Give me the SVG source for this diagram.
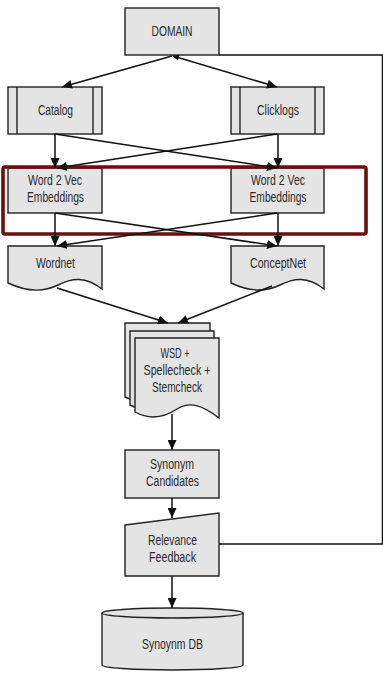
<svg xmlns="http://www.w3.org/2000/svg" width="383" height="675" viewBox="0 0 383 675">
  <style>
    .node { fill: #e4e4e4; stroke: #222; stroke-width: 1.4; }
    .inner { fill: none; stroke: #222; stroke-width: 1.4; }
    .label { font-family: "Liberation Sans", Arial, sans-serif; font-size: 14px; fill: #2a2a2a; text-anchor: middle; }
    .edge { fill: none; stroke: #111; stroke-width: 1.5; }
    .frame { fill: none; stroke: #6e0d0d; stroke-width: 3.6; }
  </style>
  <defs>
    <marker id="arrow" markerUnits="userSpaceOnUse" markerWidth="11" markerHeight="9" refX="10" refY="4.5" orient="auto">
      <path d="M0,0 L10,4.5 L0,9 Z" fill="#111"/>
    </marker>
    <marker id="arrowStart" markerUnits="userSpaceOnUse" markerWidth="8" markerHeight="7" refX="1" refY="3.5" orient="auto">
      <path d="M7,0.5 L0,3.5 L7,6.5 Z" fill="#111"/>
    </marker>
  </defs>

  <rect width="383" height="675" fill="#fff"/>

  <g id="domain">
    <rect class="node" x="125" y="8" width="94" height="47"/>
    <text class="label" x="172" y="36" textLength="41" lengthAdjust="spacingAndGlyphs">DOMAIN</text>
  </g>

  <g id="catalog">
    <rect class="node" x="8" y="87" width="94" height="47"/>
    <line class="inner" x1="17" y1="87" x2="17" y2="134"/>
    <line class="inner" x1="93" y1="87" x2="93" y2="134"/>
    <text class="label" x="55.5" y="115" textLength="35" lengthAdjust="spacingAndGlyphs">Catalog</text>
  </g>

  <g id="clicklogs">
    <rect class="node" x="231" y="87" width="93" height="47"/>
    <line class="inner" x1="240" y1="87" x2="240" y2="134"/>
    <line class="inner" x1="315" y1="87" x2="315" y2="134"/>
    <text class="label" x="278" y="115" textLength="42" lengthAdjust="spacingAndGlyphs">Clicklogs</text>
  </g>

  <g id="w2v-left">
    <rect class="node" x="8" y="168" width="94" height="45"/>
    <text class="label" x="55" y="185" textLength="54" lengthAdjust="spacingAndGlyphs">Word 2 Vec</text>
    <text class="label" x="55.5" y="202" textLength="57" lengthAdjust="spacingAndGlyphs">Embeddings</text>
  </g>

  <g id="w2v-right">
    <rect class="node" x="231" y="168" width="93" height="45"/>
    <text class="label" x="278" y="185" textLength="54" lengthAdjust="spacingAndGlyphs">Word 2 Vec</text>
    <text class="label" x="278" y="202" textLength="57" lengthAdjust="spacingAndGlyphs">Embeddings</text>
  </g>

  <g id="wordnet">
    <path class="node" d="M8,246 H102 V289 C85,276 72,278 58,285 C42,293 25,291 8,283 Z"/>
    <text class="label" x="55.5" y="268" textLength="39" lengthAdjust="spacingAndGlyphs">Wordnet</text>
  </g>

  <g id="conceptnet">
    <path class="node" d="M231,246 H324 V289 C307,276 294,278 280,285 C264,293 248,291 231,283 Z"/>
    <text class="label" x="278" y="268" textLength="56" lengthAdjust="spacingAndGlyphs">ConceptNet</text>
  </g>

  <g id="wsd">
    <path class="node" d="M125,323 H210 V403 C193,390 180,391 167,398 C152,405 140,404 125,397 Z"/>
    <path class="node" d="M130,331 H214 V411 C197,398 184,399 171,406 C156,413 144,412 130,405 Z"/>
    <path class="node" d="M135,338 H219 V418 C202,405 190,401 177,409 C162,419 148,419 135,412 Z"/>
    <text class="label" x="175" y="358" textLength="29" lengthAdjust="spacingAndGlyphs">WSD +</text>
    <text class="label" x="177" y="375" textLength="67" lengthAdjust="spacingAndGlyphs">Spellecheck +</text>
    <text class="label" x="177" y="392" textLength="50" lengthAdjust="spacingAndGlyphs">Stemcheck</text>
  </g>

  <g id="synonym-candidates">
    <rect class="node" x="125" y="450" width="94" height="48"/>
    <text class="label" x="172" y="469" textLength="44" lengthAdjust="spacingAndGlyphs">Synonym</text>
    <text class="label" x="172.5" y="486" textLength="53" lengthAdjust="spacingAndGlyphs">Candidates</text>
  </g>

  <g id="relevance-feedback">
    <path class="node" d="M125,525 L219,513 V576 H125 Z"/>
    <text class="label" x="172.5" y="545" textLength="49" lengthAdjust="spacingAndGlyphs">Relevance</text>
    <text class="label" x="172.5" y="562" textLength="47" lengthAdjust="spacingAndGlyphs">Feedback</text>
  </g>

  <g id="synonym-db">
    <path class="node" d="M102,613 V665 A70.5,5 0 0 0 243,665 V613"/>
    <ellipse class="node" cx="172.5" cy="613" rx="70.5" ry="5"/>
    <text class="label" x="172.5" y="649" textLength="61" lengthAdjust="spacingAndGlyphs">Synoynm DB</text>
  </g>

  <!-- highlight around the embedding stage -->
  <rect class="frame" x="3" y="167" width="363" height="67" rx="2"/>

  <g id="connectors">
    <line class="edge" x1="172" y1="56" x2="62" y2="87" marker-end="url(#arrow)"/>
    <line class="edge" x1="173" y1="56" x2="277" y2="87" marker-start="url(#arrowStart)" marker-end="url(#arrow)"/>

    <line class="edge" x1="55" y1="134" x2="55" y2="168" marker-end="url(#arrow)"/>
    <line class="edge" x1="55" y1="134" x2="277" y2="168" marker-end="url(#arrow)"/>
    <line class="edge" x1="277" y1="134" x2="57" y2="168" marker-end="url(#arrow)"/>
    <line class="edge" x1="278" y1="134" x2="278" y2="168" marker-end="url(#arrow)"/>

    <line class="edge" x1="55" y1="213" x2="55" y2="246" marker-end="url(#arrow)"/>
    <line class="edge" x1="55" y1="213" x2="277" y2="246" marker-end="url(#arrow)"/>
    <line class="edge" x1="277" y1="213" x2="57" y2="246" marker-end="url(#arrow)"/>
    <line class="edge" x1="278" y1="213" x2="278" y2="246" marker-end="url(#arrow)"/>

    <line class="edge" x1="57" y1="288" x2="168" y2="323" marker-end="url(#arrow)"/>
    <line class="edge" x1="272" y1="286" x2="178" y2="323" marker-end="url(#arrow)"/>

    <line class="edge" x1="172" y1="414" x2="172" y2="450" marker-end="url(#arrow)"/>
    <line class="edge" x1="172" y1="498" x2="172" y2="518" marker-end="url(#arrow)"/>
    <line class="edge" x1="172" y1="576" x2="172" y2="608" marker-end="url(#arrow)"/>

    <!-- feedback loop back to the domain -->
    <polyline class="edge" points="219,544 382.5,544 382.5,55 219,55"/>
  </g>
</svg>
